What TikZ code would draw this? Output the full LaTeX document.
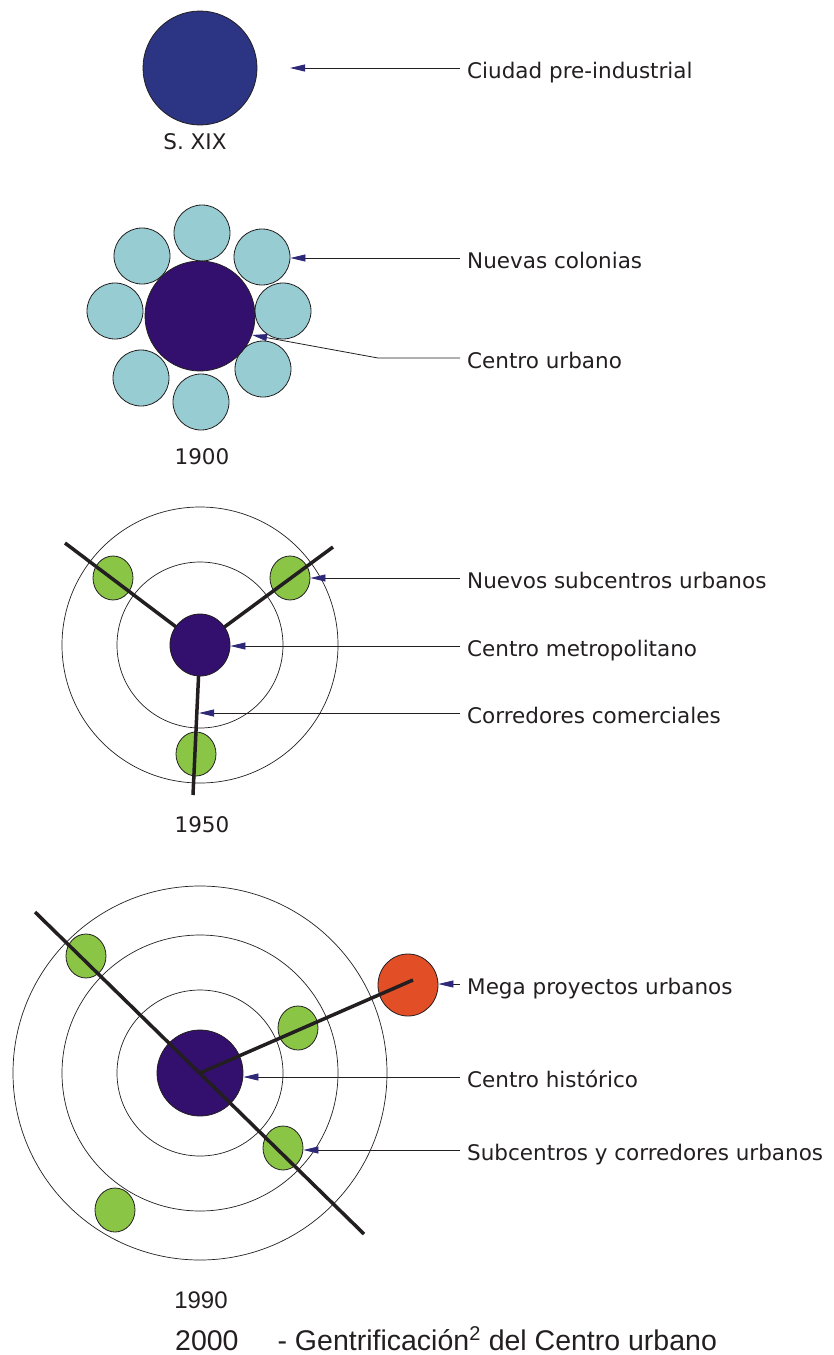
\documentclass[tikz,border=0pt]{standalone}
\usepackage{fontspec}
\setmainfont{DejaVu Sans}
\newfontfamily\arialfont{Liberation Sans}
\usetikzlibrary{shapes, arrows.meta}

\definecolor{oldblue}{RGB}{44,53,131}
\definecolor{corepurple}{RGB}{51,15,110}
\definecolor{colonyteal}{RGB}{151,205,210}
\definecolor{subgreen}{RGB}{138,197,70}
\definecolor{megared}{RGB}{226,78,38}
\definecolor{tipblue}{RGB}{46,40,120}
\definecolor{inkgray}{RGB}{35,31,32}

\tikzset{
  disc/.style={draw=inkgray, line width=0.8pt, circle, inner sep=0pt},
  blob/.style={draw=inkgray, line width=0.8pt, ellipse, inner sep=0pt, fill=subgreen, minimum width=40pt, minimum height=44pt},
  ring/.style={draw=inkgray, line width=0.7pt},
  road/.style={draw=inkgray, line width=3.5pt},
  pointer/.style={draw=inkgray, line width=0.8pt, -{Triangle[length=15pt,width=7pt,color=tipblue]}},
  lbl/.style={anchor=west, font=\fontsize{21.5}{24}\selectfont, text height=20pt, text depth=0pt, text=inkgray, inner sep=7pt},
  year/.style={font=\fontsize{21.5}{24}\selectfont, text=inkgray}
}

\begin{document}
\begin{tikzpicture}[x=1pt, y=-1pt]
\useasboundingbox (0,0) rectangle (833,1355);

% S. XIX
\node[disc, fill=oldblue, minimum size=114pt] (city) at (200,68) {};
\node[year] (sxix) at (195,142) {S. XIX};
\coordinate (cityTip) at (290,68);
\node[lbl] (lblCity) at (460,68) {Ciudad pre-industrial};
\draw[pointer] (lblCity.west) -- (cityTip);

% 1900
\foreach \x/\y [count=\i] in {202/233, 262/257, 283/311, 263/369, 201/402, 141/378, 115/311, 142/256}
  \node[disc, fill=colonyteal, minimum size=56pt] (col\i) at (\x,\y) {};
\node[disc, fill=corepurple, minimum size=110pt] (core) at (200,316) {};
\node[year] (y1900) at (202,457) {1900};
\node[lbl] (lblCol) at (460,258) {Nuevas colonias};
\draw[pointer] (lblCol.west) -- (lblCol.west -| col2.east);
\coordinate (coreBend) at (378,358);
\node[lbl] (lblCore) at (460,358) {Centro urbano};
\draw[pointer] (lblCore.west) -- (coreBend) -- (core.-20);

% 1950
\coordinate (metro) at (200,645);
\draw[ring] (metro) circle[radius=138];
\draw[ring] (metro) circle[radius=83];
\node[blob] (subA) at (113,578) {};
\node[blob] (subB) at (290,578) {};
\node[blob] (subC) at (196,754) {};
\coordinate (roadA) at (65,543);
\coordinate (roadB) at (333,547);
\coordinate (roadC) at (193,795);
\draw[road] (roadA) -- (metro);
\draw[road] (roadB) -- (metro);
\draw[road] (roadC) -- (metro);
\node[disc, ellipse, fill=corepurple, minimum width=60pt, minimum height=62pt] (metroCore) at (metro) {};
\node[lbl] (lblSub) at (460,578) {Nuevos subcentros urbanos};
\draw[pointer] (lblSub.west) -- (lblSub.west -| subB.east);
\node[lbl] (lblMetro) at (460,646) {Centro metropolitano};
\draw[pointer] (lblMetro.west) -- (lblMetro.west -| metroCore.east);
\coordinate (corTip) at (199,713);
\node[lbl] (lblCor) at (460,713) {Corredores comerciales};
\draw[pointer] (lblCor.west) -- (corTip);
\node[year] (y1950) at (202,825) {1950};

% 1990
\coordinate (hist) at (200,1073);
\foreach \r in {83,138,187}
  \draw[ring] (hist) circle[radius=\r];
\node[blob] (subD) at (86,956) {};
\node[blob] (subE) at (298,1028) {};
\node[blob] (subF) at (283,1148) {};
\node[blob] (subG) at (115,1210) {};
\node[disc, ellipse, fill=megared, minimum width=60pt, minimum height=62pt] (mega) at (408,985) {};
\node[disc, fill=corepurple, minimum size=86pt] (histCore) at (hist) {};
\coordinate (diagA) at (35,912);
\coordinate (diagB) at (364,1234);
\coordinate (megaEnd) at (413,980);
\draw[road] (diagA) -- (diagB);
\draw[road] (hist) -- (megaEnd);
\node[lbl] (lblMega) at (460,984) {Mega proyectos urbanos};
\draw[pointer] (lblMega.west) -- (lblMega.west -| mega.east);
\node[lbl] (lblHist) at (460,1077) {Centro histórico};
\draw[pointer] (lblHist.west) -- (lblHist.west -| histCore.east);
\node[lbl] (lblSubF) at (460,1150) {Subcentros y corredores urbanos};
\draw[pointer] (lblSubF.west) -- (lblSubF.west -| subF.east);

\node[year, font=\arialfont\fontsize{24}{26}\selectfont] (y1990) at (201,1300) {1990};
\node[anchor=base west, font=\arialfont\fontsize{28.5}{30}\selectfont, text=inkgray, inner sep=0pt] (y2000) at (175,1350) {2000\hspace{39pt}- Gentrificación\textsuperscript{2} del Centro urbano};
\end{tikzpicture}
\end{document}
